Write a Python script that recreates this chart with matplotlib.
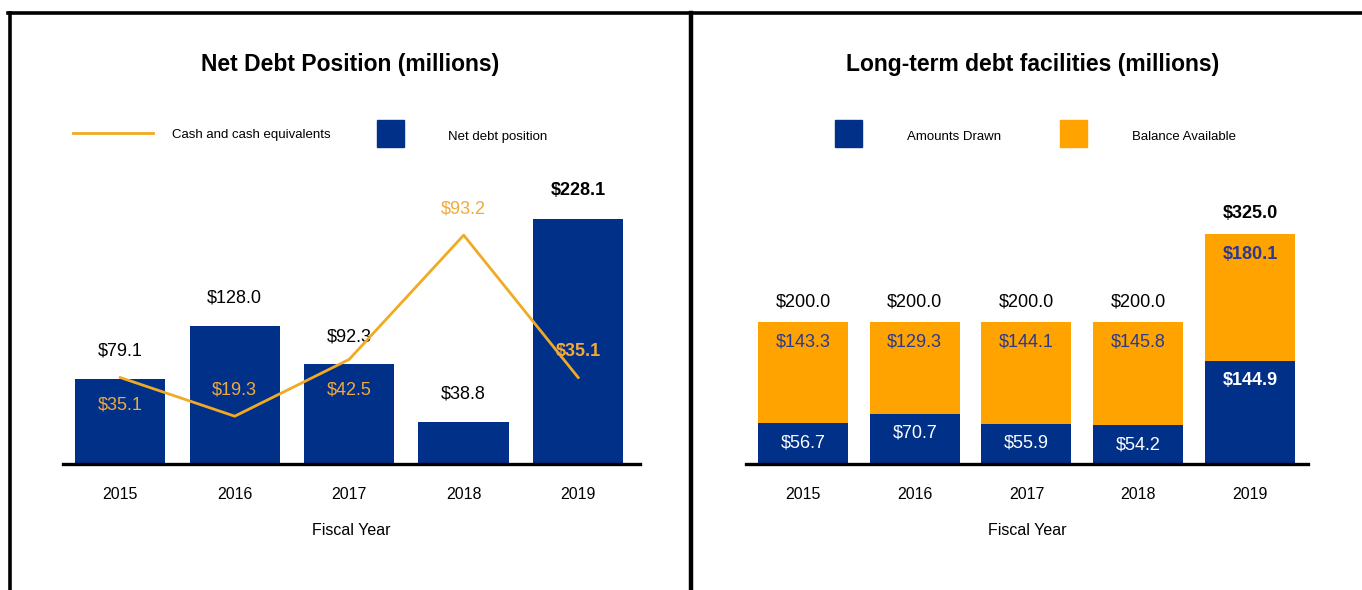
import matplotlib.pyplot as plt
from matplotlib.lines import Line2D
from matplotlib.patches import Rectangle
import numpy as np

plt.rcParams['font.family'] = ['Liberation Sans Narrow', 'Liberation Sans', 'DejaVu Sans']

years = ['2015', '2016', '2017', '2018', '2019']
net_debt = [79.1, 128.0, 92.3, 38.8, 228.1]
cash = [35.1, 19.3, 42.5, 93.2, 35.1]
drawn = [56.7, 70.7, 55.9, 54.2, 144.9]
available = [143.3, 129.3, 144.1, 145.8, 180.1]

BLUE = '#003087'
ORANGE = '#FFA300'
LINE_OR = '#F0AA23'
LABEL_OR = '#F2A93B'
NAVY_TXT = '#2B3990'

W, H = 1362, 590
fig = plt.figure(figsize=(W / 100, H / 100), dpi=100)

def px_box(x0, x1, ybase, height):
	return [x0 / W, (H - ybase) / H, (x1 - x0) / W, height / H]

# frame lines
def fline(x0, y0, x1, y1, lw=2.6):
	fig.add_artist(Line2D([x0 / W, x1 / W], [1 - y0 / H, 1 - y1 / H], color='black', lw=lw))

fline(8, 13, W, 13)
fline(9.5, 13, 9.5, H)
fline(690.5, 13, 690.5, H, lw=3.2)

x = np.arange(len(years))
VAL_FS = 13
TICK_FS = 11.5
LEG_FS = 9.5

# ---------- left chart ----------
ax = fig.add_axes(px_box(63, 640, 463.5, 268.5))
ax.set_xlim(-0.5, 4.54)
ax.set_ylim(0, 250)
bars = ax.bar(x, net_debt, width=0.79, color=BLUE, zorder=2)
for i, v in enumerate(net_debt):
	bold = i == 4
	ax.annotate('${:.1f}'.format(v), (x[i], v), xytext=(0, 20), textcoords='offset points',
		ha='center', va='center', fontsize=VAL_FS, color='black',
		fontweight='bold' if bold else 'normal')

ax2 = ax.twinx()
ax2.set_ylim(0, 250 * 1.074 / 2.45)
ax2.plot(x, cash, color=LINE_OR, lw=2, zorder=3)
cash_off = [-20, 19, -22, 19, 19]
for i, v in enumerate(cash):
	ax2.annotate('${:.1f}'.format(v), (x[i], v), xytext=(0, cash_off[i]), textcoords='offset points',
		ha='center', va='center', fontsize=VAL_FS, color=LABEL_OR,
		fontweight='bold' if i == 4 else 'normal')

for a in (ax, ax2):
	for s in ['top', 'right', 'left']:
		a.spines[s].set_visible(False)
	a.set_yticks([])
ax2.spines['bottom'].set_visible(False)
ax.spines['bottom'].set_linewidth(2.4)
ax.set_xticks(x)
ax.set_xticklabels(years, fontsize=TICK_FS)
ax.tick_params(axis='x', length=0, pad=17)
ax.set_xlabel('Fiscal Year', fontsize=TICK_FS, labelpad=15)

fig.text(350 / W, 1 - 64 / H, 'Net Debt Position (millions)', ha='center', va='center',
	fontsize=16.5, fontweight='bold')
fig.add_artist(Line2D([73 / W, 153 / W], [1 - 133 / H] * 2, color=LINE_OR, lw=2))
fig.text(172 / W, 1 - 135 / H, 'Cash and cash equivalents', ha='left', va='center', fontsize=LEG_FS)
fig.add_artist(Rectangle((377 / W, 1 - 147 / H), 27 / W, 27 / H, color=BLUE, transform=fig.transFigure))
fig.text(448 / W, 1 - 137 / H, 'Net debt position', ha='left', va='center', fontsize=LEG_FS)

# ---------- right chart ----------
bx = fig.add_axes(px_box(746, 1308, 463.5, 247))
bx.set_xlim(-0.51, 4.52)
bx.set_ylim(0, 350)
bx.bar(x, drawn, width=0.805, color=BLUE, zorder=2)
bx.bar(x, available, bottom=drawn, width=0.805, color=ORANGE, zorder=2)
for i in range(len(years)):
	bold = i == 4
	fw = 'bold' if bold else 'normal'
	tot = drawn[i] + available[i]
	bx.annotate('${:.1f}'.format(tot), (x[i], tot), xytext=(0, 15), textcoords='offset points',
		ha='center', va='center', fontsize=VAL_FS, color='black', fontweight=fw)
	bx.annotate('${:.1f}'.format(available[i]), (x[i], tot), xytext=(0, -14.5), textcoords='offset points',
		ha='center', va='center', fontsize=VAL_FS, color=NAVY_TXT, fontweight=fw)
	bx.annotate('${:.1f}'.format(drawn[i]), (x[i], drawn[i]), xytext=(0, -14), textcoords='offset points',
		ha='center', va='center', fontsize=VAL_FS, color='white', fontweight=fw)

for s in ['top', 'right', 'left']:
	bx.spines[s].set_visible(False)
bx.set_yticks([])
bx.spines['bottom'].set_linewidth(2.4)
bx.set_xticks(x)
bx.set_xticklabels(years, fontsize=TICK_FS)
bx.tick_params(axis='x', length=0, pad=17)
bx.set_xlabel('Fiscal Year', fontsize=TICK_FS, labelpad=15)

fig.text(1033 / W, 1 - 64 / H, 'Long-term debt facilities (millions)', ha='center', va='center',
	fontsize=16.5, fontweight='bold')
fig.add_artist(Rectangle((835 / W, 1 - 147 / H), 27 / W, 27 / H, color=BLUE, transform=fig.transFigure))
fig.text(907 / W, 1 - 137 / H, 'Amounts Drawn', ha='left', va='center', fontsize=LEG_FS)
fig.add_artist(Rectangle((1060 / W, 1 - 147 / H), 27 / W, 27 / H, color=ORANGE, transform=fig.transFigure))
fig.text(1132 / W, 1 - 137 / H, 'Balance Available', ha='left', va='center', fontsize=LEG_FS)

fig.savefig('out.png', dpi=100)
